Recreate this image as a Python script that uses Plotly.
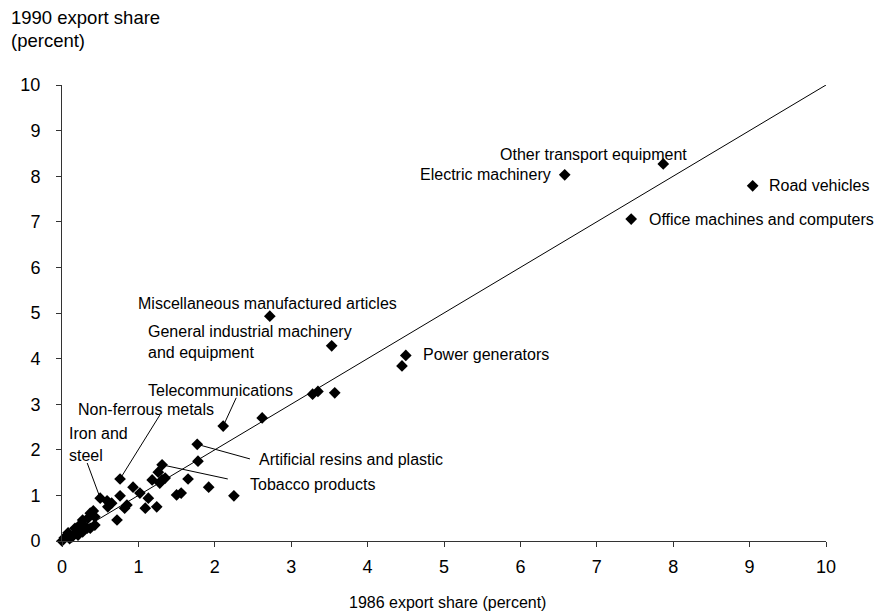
import plotly.graph_objects as go

# ---- data ----
x1986 = [6.58, 7.87, 9.04, 7.45, 2.72, 3.53, 4.50, 4.45, 2.11, 1.77, 1.31, 0.76, 0.50,
         3.28, 3.35, 3.57, 2.62, 1.78, 1.26, 1.18, 1.31, 1.35, 1.28, 1.65, 1.92, 2.25,
         1.50, 1.56, 1.24, 1.09, 1.13, 1.02, 0.93, 0.76, 0.85, 0.82, 0.65, 0.60, 0.59,
         0.72, 0.43, 0.41, 0.37, 0.43, 0.34, 0.26, 0.27, 0.33, 0.17, 0.21, 0.21, 0.13,
         0.08, 0.03, 0.00, 0.27, 0.37, 0.15, 0.10]
y1990 = [8.03, 8.27, 7.79, 7.06, 4.93, 4.28, 4.07, 3.84, 2.52, 2.12, 1.67, 1.36, 0.94,
         3.22, 3.28, 3.25, 2.70, 1.75, 1.51, 1.34, 1.34, 1.38, 1.27, 1.36, 1.18, 0.99,
         1.01, 1.05, 0.75, 0.72, 0.94, 1.05, 1.18, 0.99, 0.79, 0.72, 0.83, 0.75, 0.88,
         0.46, 0.53, 0.66, 0.61, 0.35, 0.50, 0.39, 0.46, 0.28, 0.28, 0.31, 0.13, 0.09,
         0.18, 0.07, 0.00, 0.20, 0.28, 0.13, 0.05]

tick_vals = list(range(0, 11))
tick_text = [str(v) for v in tick_vals]

x_title = "1986 export share (percent)"
y_title_lines = ["1990 export share", "(percent)"]

# label text, placement (data coords), anchor
labels = [
    ("Other transport equipment", 6.96, 8.47, "center"),
    ("Electric machinery", 6.43, 8.03, "right"),
    ("Road vehicles", 9.23, 7.79, "left"),
    ("Office machines and computers", 7.66, 7.06, "left"),
    ("Miscellaneous manufactured articles", 0.97, 5.20, "left"),
    ("General industrial machinery", 1.10, 4.60, "left"),
    ("and equipment", 1.10, 4.14, "left"),
    ("Power generators", 4.70, 4.08, "left"),
    ("Telecommunications", 1.10, 3.31, "left"),
    ("Non-ferrous metals", 0.18, 2.89, "left"),
    ("Iron and", 0.07, 2.36, "left"),
    ("steel", 0.07, 1.88, "left"),
    ("Artificial resins and plastic", 2.55, 1.78, "left"),
    ("Tobacco products", 2.43, 1.25, "left"),
]

# leader lines: start (data coords) -> index of the labelled point
leaders = [
    (2.28, 3.14, 8),
    (1.28, 2.76, 11),
    (0.33, 1.71, 12),
    (2.46, 1.80, 9),
    (2.17, 1.36, 10),
]

FONT = "Liberation Sans, Arial, sans-serif"

fig = go.Figure()

# 45-degree reference line
fig.add_trace(go.Scatter(
    x=[tick_vals[0], tick_vals[-1]], y=[tick_vals[0], tick_vals[-1]],
    mode="lines", line=dict(color="black", width=1),
    hoverinfo="skip", showlegend=False, cliponaxis=False))

fig.add_trace(go.Scatter(
    x=x1986, y=y1990, mode="markers",
    marker=dict(symbol="diamond", size=9, color="black", line=dict(width=0)),
    showlegend=False, cliponaxis=False))

shapes = []
for sx, sy, idx in leaders:
    shapes.append(dict(type="line", xref="x", yref="y", x0=sx, y0=sy,
                       x1=x1986[idx], y1=y1990[idx],
                       line=dict(color="black", width=1), layer="below"))

annotations = []
for text, ax_, ay_, anch in labels:
    annotations.append(dict(text=text, x=ax_, y=ay_, xref="x", yref="y",
                            xanchor=anch, yanchor="middle", showarrow=False,
                            font=dict(size=16, color="black", family=FONT)))

# axis titles as annotations
annotations.append(dict(text=x_title, x=0.505, y=-0.134, xref="paper", yref="paper",
                        xanchor="center", yanchor="middle", showarrow=False,
                        font=dict(size=16, color="black", family=FONT)))
for i, line in enumerate(y_title_lines):
    annotations.append(dict(text=line, x=-0.069, y=1.149 - i * 0.0505,
                            xref="paper", yref="paper",
                            xanchor="left", yanchor="middle", showarrow=False,
                            font=dict(size=18.5, color="black", family=FONT)))

axis_common = dict(
    range=[0, 10], tickvals=tick_vals, ticktext=tick_text,
    showgrid=False, zeroline=False, showline=True, linecolor="#333",
    linewidth=1, ticks="outside", ticklen=5, tickcolor="#333",
    tickfont=dict(size=18, color="black", family=FONT),
)

fig.update_layout(
    width=881, height=614,
    margin=dict(l=62, r=55, t=85, b=73),
    plot_bgcolor="white", paper_bgcolor="white",
    xaxis=dict(**axis_common, ticklabelstandoff=4),
    yaxis=dict(**axis_common, ticklabelstandoff=12),
    shapes=shapes, annotations=annotations,
    font=dict(family=FONT, color="black"),
    hovermode=False,
)

fig.write_html("out.html", config={"displayModeBar": False},
               post_script="document.body.style.margin='0px';")
